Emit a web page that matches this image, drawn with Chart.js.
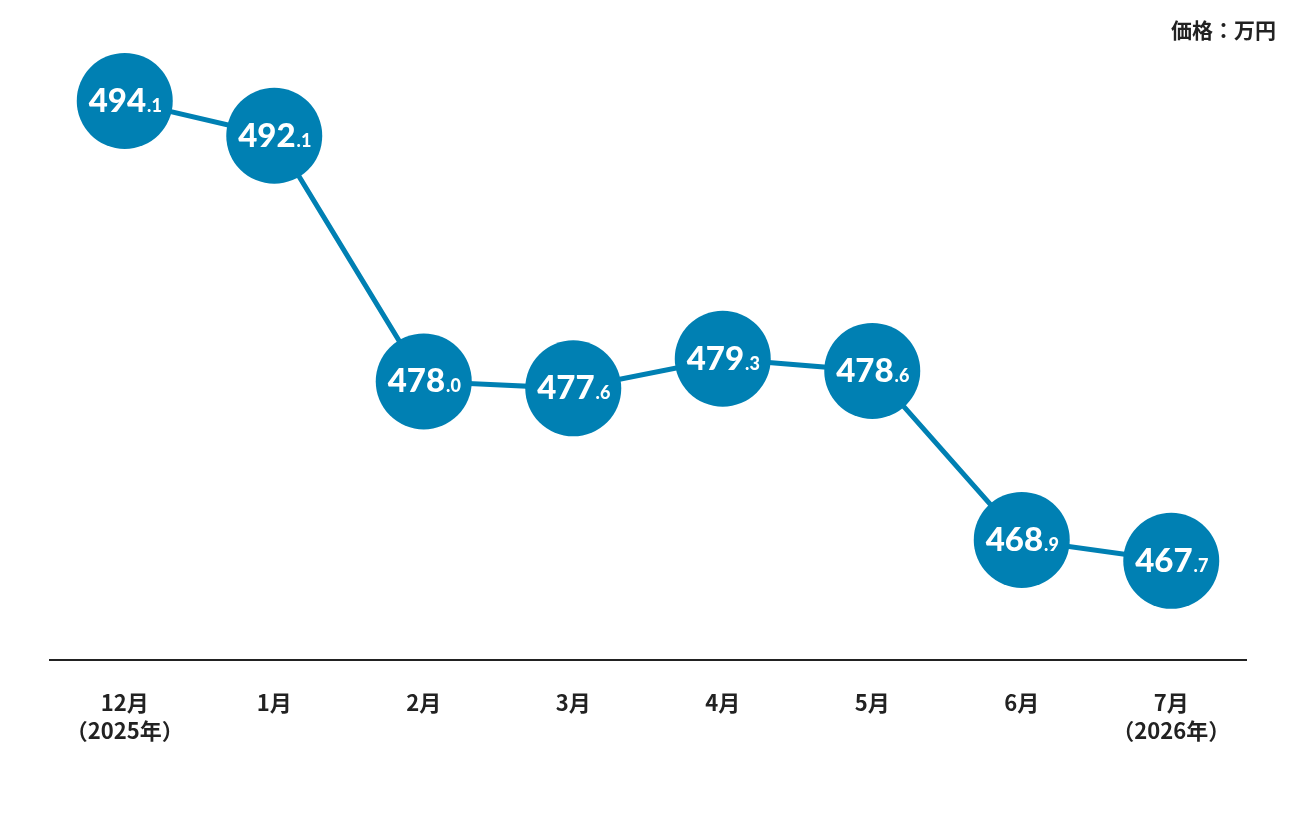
<!DOCTYPE html>
<html>
<head>
<meta charset="utf-8">
<script src="https://cdn.jsdelivr.net/npm/chart.js@4"></script>
<style>
  body { margin: 0; background: #fff; }
  #wrap { position: relative; width: 1296px; height: 816px; }
  #unit {
    position: absolute; right: 20px; top: 14px; line-height: 30px;
    font: bold 21px "Noto Sans CJK JP", sans-serif; color: #222;
  }
</style>
</head>
<body>
<div id="wrap">
  <canvas id="chart"></canvas>
  <div id="unit">価格：万円</div>
</div>
<script>
// data
const months = [
  ["12月", "（2025年）"], "1月", "2月", "3月", "4月", "5月", "6月", ["7月", "（2026年）"]
];
const prices = [494.1, 492.1, 478.0, 477.6, 479.3, 478.6, 468.9, 467.7];

const blue = "#0080b3";

// draws "494" big and ".1" small inside each circle
const valueLabels = {
  id: "valueLabels",
  afterDatasetsDraw(chart) {
    const ctx = chart.ctx;
    const meta = chart.getDatasetMeta(0);
    const bigFont = "900 33px Lato, sans-serif";
    const smallFont = "900 18px Lato, sans-serif";
    ctx.save();
    ctx.fillStyle = "#fff";
    ctx.textBaseline = "alphabetic";
    ctx.textAlign = "left";
    meta.data.forEach((pt, i) => {
      const txt = prices[i].toFixed(1);
      const intPart = txt.split(".")[0];
      const decPart = "." + txt.split(".")[1];
      ctx.font = bigFont;
      const w1 = ctx.measureText(intPart).width;
      ctx.font = smallFont;
      const w2 = ctx.measureText(decPart).width;
      let x = pt.x - (w1 + w2) / 2;
      const y = pt.y + 11;
      ctx.font = bigFont;
      ctx.fillText(intPart, x, y);
      ctx.font = smallFont;
      ctx.fillText(decPart, x + w1 + 1, y);
    });
    ctx.restore();
  }
};

let chart = new Chart(document.getElementById("chart"), {
  type: "line",
  data: {
    labels: months,
    datasets: [{
      data: prices,
      borderColor: blue,
      borderWidth: 5,
      backgroundColor: blue,
      pointRadius: 48,
      pointHoverRadius: 48,
      pointBorderWidth: 0,
      pointBackgroundColor: blue,
      tension: 0,
      clip: false
    }]
  },
  options: {
    responsive: true,
    maintainAspectRatio: false,
    animation: false,
    layout: { autoPadding: false, padding: { left: 50, right: 50, top: 33, bottom: 42 } },
    plugins: {
      legend: { display: false },
      tooltip: { enabled: false }
    },
    scales: {
      x: {
        offset: true,
        grid: { display: false, drawTicks: false },
        border: { color: "#222", width: 2 },
        ticks: {
          padding: 29,
          color: "#222",
          maxRotation: 0,
          font: { family: "'Noto Sans CJK JP', sans-serif", size: 22, weight: "bold", lineHeight: 1.27 }
        }
      },
      y: {
        display: false,
        min: 462,
        max: 498
      }
    }
  },
  plugins: [valueLabels]
});
</script>
</body>
</html>
